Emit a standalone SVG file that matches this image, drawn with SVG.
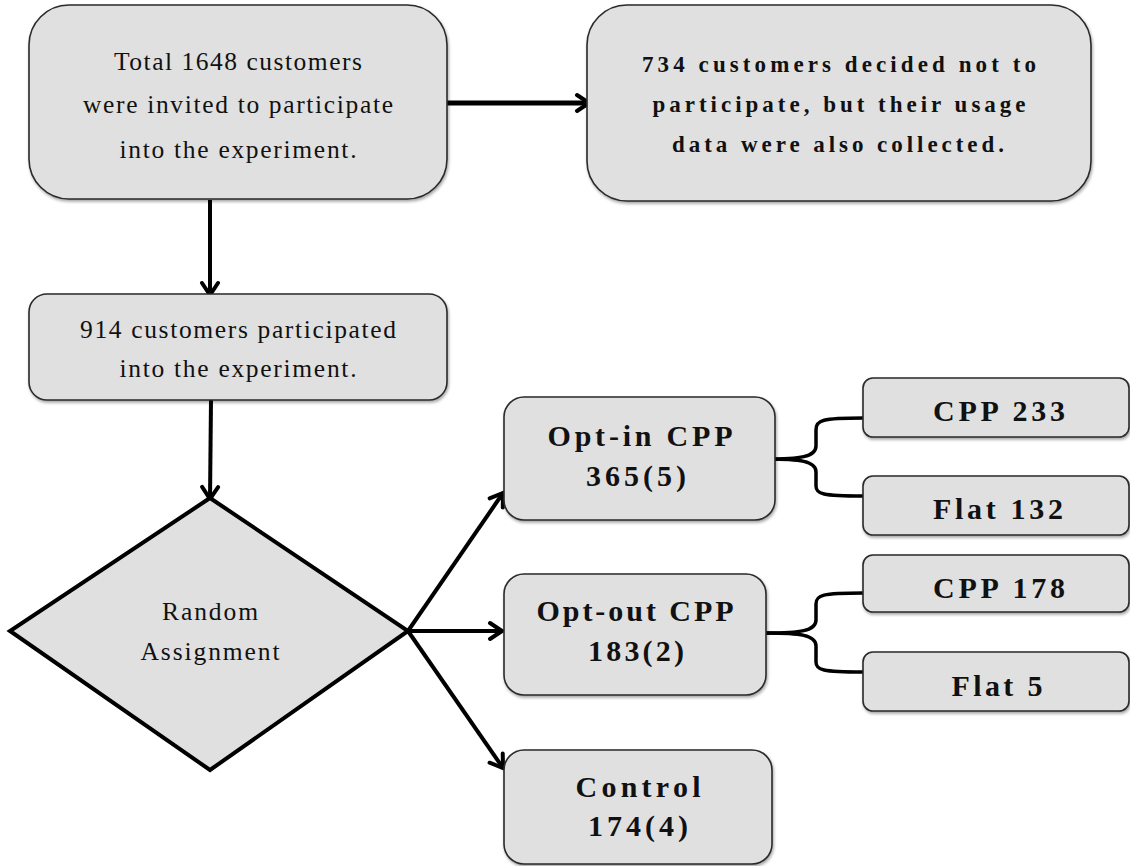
<svg xmlns="http://www.w3.org/2000/svg" width="1130" height="866" viewBox="0 0 1130 866">
<style>
.box{fill:#e0e0e0;stroke:#2a2a2a;stroke-width:1.6;filter:url(#sh)}
.dia{fill:#e0e0e0;stroke:#000;stroke-width:4;stroke-linejoin:miter}
.t{font-family:"Liberation Serif","Times New Roman",serif;font-size:25.5px;fill:#111;text-anchor:middle}
.b{font-family:"Liberation Serif","Times New Roman",serif;font-weight:bold;fill:#111;text-anchor:middle}
.b20{font-size:23px}
.b26{font-size:30px}
.con{stroke:#000;stroke-width:4;fill:none}
.thick{stroke-width:5}
.arr{marker-end:url(#ah)}
.br{stroke:#000;stroke-width:3.5;fill:none}
</style>
<defs>
<filter id="sh" x="-5%" y="-5%" width="112%" height="120%">
<feDropShadow dx="1" dy="2" stdDeviation="1.8" flood-color="#000" flood-opacity="0.35"/>
</filter>
<marker id="ah" markerUnits="userSpaceOnUse" markerWidth="22" markerHeight="22" viewBox="0 0 22 22" refX="19" refY="11" orient="auto">
<path d="M7,3 L19,11 L7,19" fill="none" stroke="#000" stroke-width="4" stroke-linecap="round" stroke-linejoin="miter"/>
</marker>
</defs>

<g id="connectors">
<line class="con thick arr" x1="447" y1="103" x2="589" y2="103"/>
<line class="con arr" x1="210" y1="200" x2="210" y2="295"/>
<line class="con arr" x1="211" y1="400" x2="210" y2="499"/>
<line class="con arr" x1="408" y1="631" x2="503" y2="493"/>
<line class="con arr" x1="408" y1="631" x2="502" y2="631"/>
<line class="con arr" x1="408" y1="631" x2="503" y2="768"/>
<path class="br" d="M766,459 C800,459 816,457 816,446 L816,430 C816,420 822,418 863,418"/>
<path class="br" d="M766,459 C800,459 816,461 816,472 L816,486 C816,494 822,496 863,496"/>
<path class="br" d="M766,633 C800,633 816,631 816,620 L816,604 C816,595 822,593 863,593"/>
<path class="br" d="M766,633 C800,633 816,635 816,646 L816,662 C816,670 822,672 863,672"/>
</g>

<g id="invited">
<rect class="box" x="29" y="5" width="418" height="194" rx="40"/>
<text class="t" x="238" y="70" textLength="248" lengthAdjust="spacing">Total 1648 customers</text>
<text class="t" x="238" y="113" textLength="310" lengthAdjust="spacing">were invited to participate</text>
<text class="t" x="238" y="158" textLength="237" lengthAdjust="spacing">into the experiment.</text>
</g>

<g id="declined">
<rect class="box" x="587" y="5" width="504" height="196" rx="40"/>
<text class="b b20" x="839" y="72" textLength="394" lengthAdjust="spacing">734 customers decided not to</text>
<text class="b b20" x="839" y="112" textLength="373" lengthAdjust="spacing">participate, but their usage</text>
<text class="b b20" x="838" y="152" textLength="332" lengthAdjust="spacing">data were also collected.</text>
</g>

<g id="participated">
<rect class="box" x="29" y="294" width="418" height="106" rx="18"/>
<text class="t" x="238" y="338" textLength="316" lengthAdjust="spacing">914 customers participated</text>
<text class="t" x="238" y="377" textLength="237" lengthAdjust="spacing">into the experiment.</text>
</g>

<g id="random">
<polygon class="dia" points="210,498 408,631 210,770 10,631"/>
<text class="t" x="210" y="620" textLength="96" lengthAdjust="spacing">Random</text>
<text class="t" x="210" y="660" textLength="139" lengthAdjust="spacing">Assignment</text>
</g>

<g id="optin">
<rect class="box" x="504" y="397" width="271" height="123" rx="20"/>
<text class="b b26" x="640" y="446" textLength="185" lengthAdjust="spacing">Opt-in CPP</text>
<text class="b b26" x="636" y="486" textLength="100" lengthAdjust="spacing">365(5)</text>
</g>

<g id="optin-cpp">
<rect class="box" x="863" y="378" width="266" height="59" rx="10"/>
<text class="b b26" x="999" y="421" textLength="132" lengthAdjust="spacing">CPP 233</text>
</g>

<g id="optin-flat">
<rect class="box" x="863" y="476" width="266" height="59" rx="10"/>
<text class="b b26" x="998" y="519" textLength="130" lengthAdjust="spacing">Flat 132</text>
</g>

<g id="optout">
<rect class="box" x="504" y="574" width="262" height="121" rx="20"/>
<text class="b b26" x="635" y="621" textLength="197" lengthAdjust="spacing">Opt-out CPP</text>
<text class="b b26" x="636" y="661" textLength="96" lengthAdjust="spacing">183(2)</text>
</g>

<g id="optout-cpp">
<rect class="box" x="863" y="555" width="266" height="57" rx="10"/>
<text class="b b26" x="999" y="598" textLength="132" lengthAdjust="spacing">CPP 178</text>
</g>

<g id="optout-flat">
<rect class="box" x="863" y="652" width="266" height="59" rx="10"/>
<text class="b b26" x="997" y="696" textLength="91" lengthAdjust="spacing">Flat 5</text>
</g>

<g id="control">
<rect class="box" x="504" y="750" width="268" height="114" rx="20"/>
<text class="b b26" x="638" y="797" textLength="125" lengthAdjust="spacing">Control</text>
<text class="b b26" x="638" y="836" textLength="100" lengthAdjust="spacing">174(4)</text>
</g>
</svg>
